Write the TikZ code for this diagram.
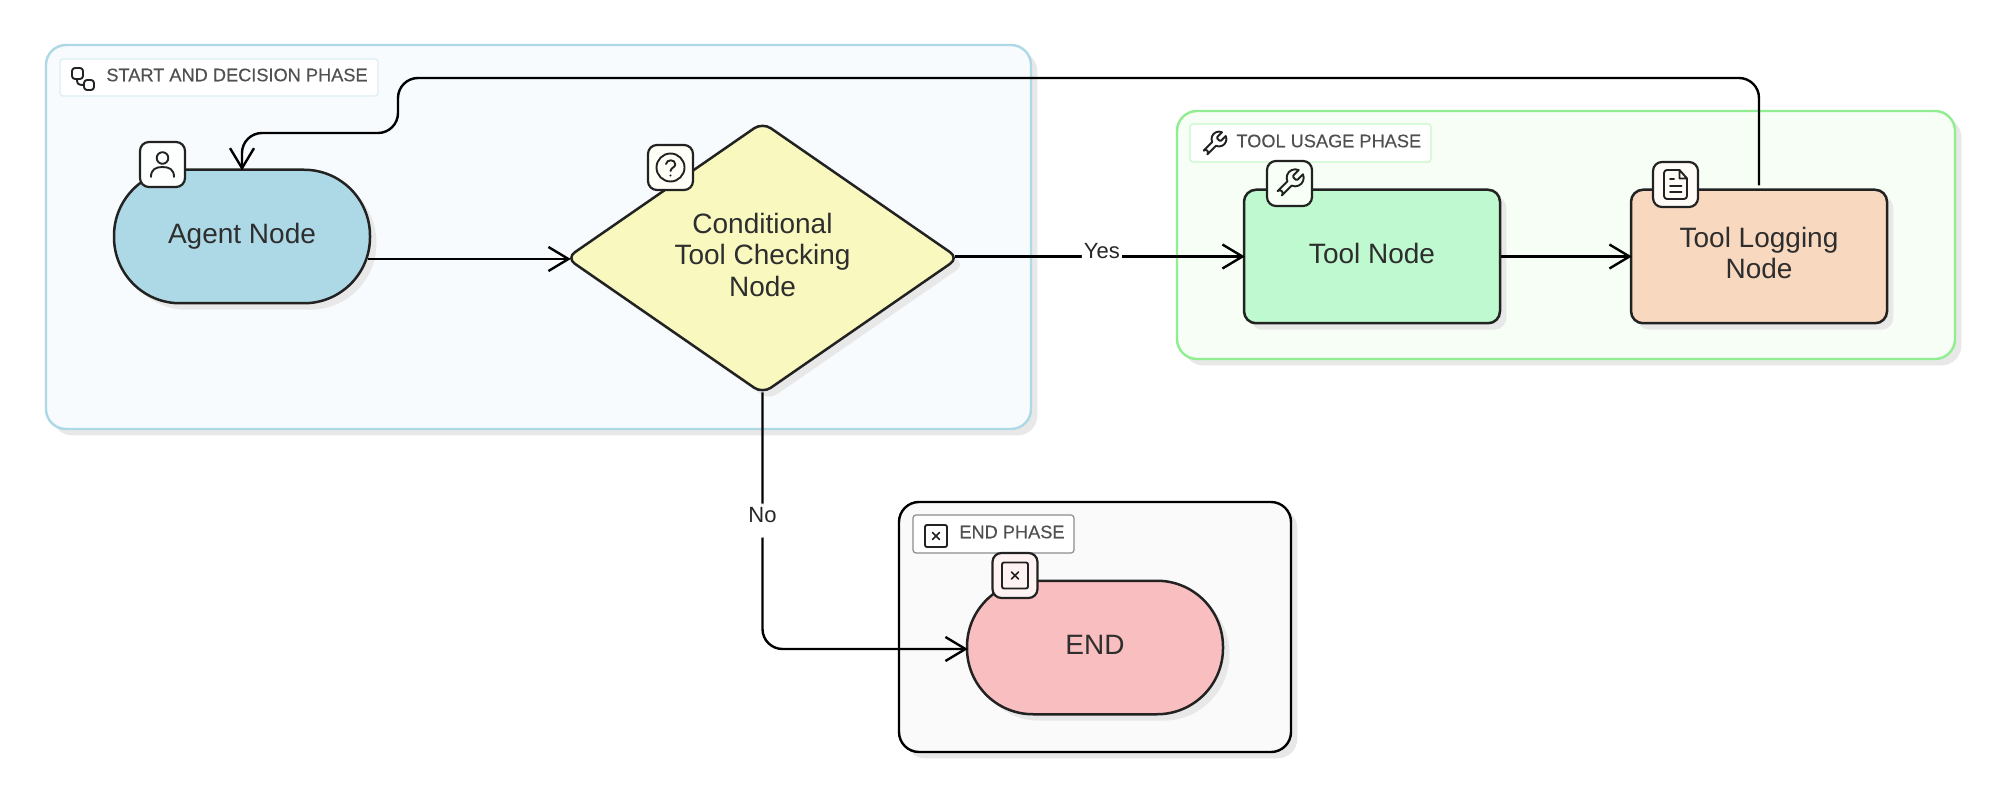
\documentclass[tikz,border=0pt]{standalone}
\usepackage{fontspec}
\setmainfont{Liberation Sans}
\newfontfamily\tagfont[FakeBold=0.3]{Liberation Sans}
\usetikzlibrary{shapes.geometric,arrows.meta,shadows,svg.path}
\definecolor{softgray}{HTML}{E8E8E8}
\definecolor{ink}{HTML}{222222}
\definecolor{txt}{HTML}{2E2E2E}
\definecolor{lbl}{HTML}{505050}
\definecolor{startedge}{HTML}{ADD8E6}
\definecolor{startfill}{HTML}{F7FBFE}
\definecolor{starttag}{HTML}{DCEEF5}
\definecolor{tooledge}{HTML}{90EE90}
\definecolor{toolfill}{HTML}{F6FEF6}
\definecolor{tooltag}{HTML}{C8F7C8}
\definecolor{endfill}{HTML}{FAFAFA}
\definecolor{decisionfill}{HTML}{F8F8BF}
\definecolor{toolnodefill}{HTML}{BEF9CF}
\definecolor{logfill}{HTML}{F9D8C0}
\definecolor{endnodefill}{HTML}{F9BEBF}
\newcommand{\nodestrut}{\rule[-3.5pt]{0pt}{14pt}}
\newcommand{\deepstrut}{\rule[-3.5pt]{0pt}{0pt}}
\newcommand{\tagstrut}{\rule[-6.5pt]{0pt}{15pt}}
\tikzset{
  softshadow/.style={drop shadow={shadow xshift=3.2pt,shadow yshift=-3.2pt,fill=softgray,opacity=1}},
  groupbox/.style={rectangle,rounded corners=10pt,line width=1.2pt,inner sep=0pt,softshadow},
  grouptag/.style={rectangle,rounded corners=1.5pt,line width=.6pt,fill=white,inner sep=0pt},
  tagtext/.style={inner sep=0pt,text=lbl,font=\tagfont\fontsize{9.1}{11}\selectfont,anchor=west},
  flow/.style={rectangle,draw=ink,line width=1.25pt,inner sep=0pt,minimum width=128pt,minimum height=66.75pt,softshadow,text=txt,
    font=\fontsize{14}{15.75}\selectfont,align=center},
  pillbox/.style={flow,rounded corners=33pt},
  boxnode/.style={flow,rounded corners=6pt},
  decisionbox/.style={flow,diamond,rounded corners=5pt,aspect=1.44,minimum width=196.5pt,minimum height=136pt},
  badge/.style={rectangle,draw=ink,line width=1.1pt,rounded corners=4.5pt,minimum size=22.5pt,inner sep=0pt},
  link/.style={draw=black,line width=1.2pt,rounded corners=10pt,-{Straight Barb[length=10pt,width=12pt,line width=1.2pt]},shorten >=-1pt},
  edgetag/.style={fill=white,inner xsep=1pt,inner ysep=1pt,text=black!85,font=\fontsize{11}{12}\selectfont},
  glyph/.style={draw=ink,line width=.95pt,line cap=round,line join=round},
  pics/wrench/.style={code={
    \draw[glyph,xscale=#1,yscale=-#1,shift={(-12pt,-12pt)}] (0pt,0pt) svg {M14.7 6.3a1 1 0 0 0 0 1.4l1.6 1.6a1 1 0 0 0 1.4 0l3.77-3.77a6 6 0 0 1-7.94 7.94l-6.91 6.91a2.12 2.12 0 0 1-3-3l6.91-6.91a6 6 0 0 1 7.94-7.94l-3.76 3.76z};
  }},
  pics/person/.style={code={
    \draw[glyph] (0,-6.5) circle[radius=5.8];
    \draw[glyph] (-11.5,12.5) .. controls (-11.5,5) and (-7,2.5) .. (0,2.5) .. controls (7,2.5) and (11.5,5) .. (11.5,12.5);
  }},
  pics/query/.style={code={
    \draw[glyph] (0,0) circle[radius=14];
    \draw[glyph] (-4.5,-3.5) .. controls (-4,-8.5) and (5,-8.5) .. (4.8,-3) .. controls (4.6,0) and (0.5,0) .. (0,3.5);
    \fill[ink] (0,8) circle[radius=1.1];
  }},
  pics/sheet/.style={code={
    \draw[glyph,rounded corners=1.5pt] (4,-14.5) -- (-11.5,-14.5) -- (-11.5,14.5) -- (11.5,14.5) -- (11.5,-6);
    \draw[glyph] (4,-14.5) -- (11.5,-6) -- (4,-6) -- cycle;
    \draw[glyph] (-5.5,-5.5) -- (-1.5,-5.5) (-5.5,1.5) -- (6,1.5) (-5.5,7.5) -- (6,7.5);
  }},
  pics/crossbox/.style={code={
    \draw[glyph,rounded corners=1pt] (-#1,-#1) rectangle (#1,#1);
    \draw[glyph,line width=.8pt] (-3.5,-3.5) -- (3.5,3.5) (-3.5,3.5) -- (3.5,-3.5);
  }},
  pics/linked/.style={code={
    \draw[glyph,rounded corners=1.5pt] (-11,-11) rectangle (0,0);
    \draw[glyph,rounded corners=1.5pt] (1,1) rectangle (11,11);
    \draw[glyph] (-6,0) .. controls (-6,5) and (-5,6) .. (1,6);
  }}
}
\begin{document}
\begin{tikzpicture}[x=0.5pt,y=-0.5pt]
\useasboundingbox[fill=white] (0,0) rectangle (2000,807);
% phase containers
\node[groupbox,draw=startedge,fill=startfill,minimum width=492.5pt,minimum height=192pt] (startgrp) at (538.5,237) {};
\node[groupbox,draw=tooledge,fill=toolfill,minimum width=389pt,minimum height=124pt] (toolgrp) at (1566,235) {};
\node[groupbox,draw=black,fill=endfill,minimum width=196pt,minimum height=125pt] (endgrp) at (1095,627) {};
% phase tags
\node[grouptag,draw=starttag,minimum width=159pt,minimum height=18.5pt] (starttagbox) at (219,77.5) {};
\node[grouptag,draw=tooltag,minimum width=120.5pt,minimum height=19pt] (tooltagbox) at (1310.5,143) {};
\node[grouptag,draw=black!45,minimum width=80.5pt,minimum height=19pt] (endtagbox) at (993.5,534) {};
\node[tagtext] (starttext) at (106,75) {START AND DECISION PHASE};
\node[tagtext] (tooltext) at (1236,141) {TOOL USAGE PHASE};
\node[tagtext] (endtext) at (959,532) {END PHASE};
\pic at (83,79) {linked};
\pic at (1214,144) {wrench=.62};
\pic at (936,536) {crossbox=11};
% flow nodes
\node[pillbox,fill=startedge] (agent) at (242,236.5) {Agent Node\nodestrut};
\node[decisionbox,fill=decisionfill] (decision) at (762.5,258) {Conditional\\Tool Checking\\Node\deepstrut};
\node[boxnode,fill=toolnodefill] (tool) at (1372,256.5) {Tool Node\nodestrut};
\node[boxnode,fill=logfill] (logger) at (1759,256.5) {Tool Logging\\Node\deepstrut};
\node[pillbox,fill=endnodefill] (endnode) at (1095,647.5) {END\nodestrut};
% connectors
\coordinate (backtop) at (398,78);
\coordinate (backdrop) at (398,133);
\draw[link] ([xshift=-1.5pt,yshift=-.5pt]agent.east |- decision.west) -- ([xshift=2pt,yshift=-.5pt]decision.west);
\draw[link] ([xshift=-2.5pt]decision.east |- tool.west) -- node[edgetag,pos=.51] (yes) {Yes\tagstrut} (tool.west);
\draw[link] (tool.east) -- (logger.west);
\draw[link] ([yshift=1.5pt]logger.north) |- (backtop) -- (backdrop) -| (agent.north);
\draw[link] ([yshift=1.5pt]decision.south) |- node[edgetag,pos=.25] (no) {No\tagstrut} ([yshift=-.75pt]endnode.west);
% badges
\node[badge,fill=white!97!startedge] (agentbadge) at (162.5,164.5) {};
\node[badge,fill=white!97!yellow] (decisionbadge) at (670.5,167.5) {};
\node[badge,fill=white!97!green] (toolbadge) at (1289.5,183.5) {};
\node[badge,fill=white!97!orange] (logbadge) at (1675.5,184.5) {};
\node[badge,fill=white!95!red] (endbadge) at (1015,575.5) {};
\pic at (agentbadge.center) {person};
\pic at (decisionbadge.center) {query};
\pic at (toolbadge.center) {wrench=.71};
\pic at (logbadge.center) {sheet};
\pic at (endbadge.center) {crossbox=13};
\end{tikzpicture}
\end{document}
